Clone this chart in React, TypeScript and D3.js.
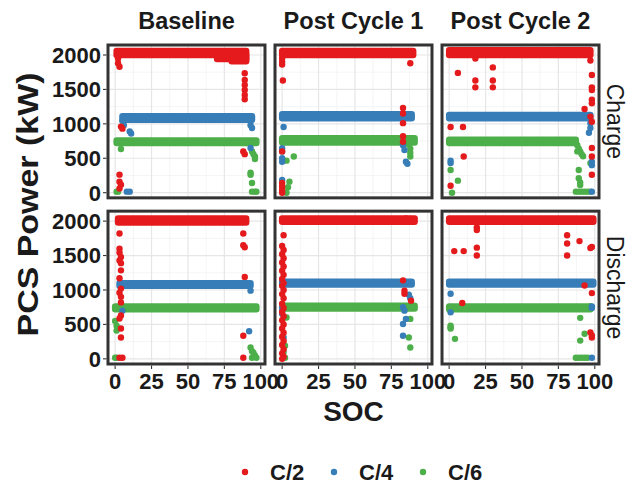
import React from "react";
import * as d3 from "d3";

const facetCols = ["Baseline", "Post Cycle 1", "Post Cycle 2"];
const facetRows = ["Charge", "Discharge"];
const seriesNames = ["C/2", "C/4", "C/6"];
const seriesColors = ["#E41A1C", "#377EB8", "#4DAF4A"];
const xTicks = [0, 25, 50, 75, 100];
const yTicks = [0, 500, 1000, 1500, 2000];
const xMinor = [12.5, 37.5, 62.5, 87.5];
const yMinor = [250, 750, 1250, 1750];

// dense runs of points: [series, SOC start, SOC end, power low, power high]
type Run = [string, number, number, number, number];
// single points: [series, SOC, power]
type Pt = [string, number, number];

const baselineChargeRuns: Run[] = [
  ["C/6", 1, 97, 720, 760],
  ["C/4", 5, 94, 1060, 1110],
  ["C/2", 1, 90, 2000, 2060],
  ["C/2", 70, 90, 1940, 2000],
  ["C/2", 80, 90, 1910, 1960],
];
const baselineChargePoints: Pt[] = [
  ["C/6", 4, 635], ["C/6", 95, 560], ["C/6", 96, 525], ["C/6", 94, 600], ["C/6", 96, 490],
  ["C/6", 93, 290], ["C/6", 93, 260], ["C/6", 94, 140], ["C/6", 94, 15], ["C/6", 96, 15],
  ["C/6", 97, 15], ["C/6", 2, 15], ["C/6", 1, 15],
  ["C/4", 5, 1040], ["C/4", 6, 980], ["C/4", 10, 890], ["C/4", 11, 860], ["C/4", 93, 1040],
  ["C/4", 93, 980], ["C/4", 94, 940], ["C/4", 93, 650], ["C/4", 8, 15], ["C/4", 10, 15],
  ["C/2", 2, 1950], ["C/2", 2, 1880], ["C/2", 3, 1830], ["C/2", 89, 1735], ["C/2", 89, 1637],
  ["C/2", 89, 1565], ["C/2", 89, 1492], ["C/2", 89, 1420], ["C/2", 89, 1357], ["C/2", 4, 960],
  ["C/2", 5, 930], ["C/2", 88, 600], ["C/2", 89, 560], ["C/2", 3, 262], ["C/2", 3, 160],
  ["C/2", 4, 115], ["C/2", 3, 60],
];

const cycle1ChargeRuns: Run[] = [
  ["C/6", 0, 91, 730, 790],
  ["C/4", 0, 89, 1080, 1140],
  ["C/2", 0, 90, 2000, 2060],
];
const cycle1ChargePoints: Pt[] = [
  ["C/6", 8, 525], ["C/6", 3, 465], ["C/6", 5, 160], ["C/6", 4, 80], ["C/6", 3, 0],
  ["C/6", 87, 700], ["C/6", 88, 640], ["C/6", 88, 580], ["C/6", 88, 525],
  ["C/4", 1, 955], ["C/4", 0, 645], ["C/4", 0, 600], ["C/4", 0, 500], ["C/4", 0, 450],
  ["C/4", 0, 185], ["C/4", 83, 690], ["C/4", 84, 620], ["C/4", 85, 450], ["C/4", 86, 420],
  ["C/2", 0, 1950], ["C/2", 0, 1900], ["C/2", 0, 1860], ["C/2", 0.5, 1630], ["C/2", 88, 1880],
  ["C/2", 83, 1230], ["C/2", 83, 1150], ["C/2", 83, 1010], ["C/2", 83, 820], ["C/2", 83, 740],
  ["C/2", 0, 600], ["C/2", 0, 140], ["C/2", 0, 90], ["C/2", 0, 40], ["C/2", 0, 0],
];

const cycle2ChargeRuns: Run[] = [
  ["C/6", 0, 87, 720, 770],
  ["C/4", 0, 97, 1080, 1130],
  ["C/2", 0, 97, 2000, 2070],
];
const cycle2ChargePoints: Pt[] = [
  ["C/6", 88, 690], ["C/6", 89, 640], ["C/6", 90, 600], ["C/6", 91, 560], ["C/6", 88, 600],
  ["C/6", 92, 530], ["C/6", 89, 330], ["C/6", 89, 210], ["C/6", 90, 150], ["C/6", 90, 110],
  ["C/6", 87, 15], ["C/6", 89, 15], ["C/6", 91, 15], ["C/6", 93, 15], ["C/6", 95, 15],
  ["C/6", 97, 15], ["C/6", 97, 430], ["C/6", 1, 330], ["C/6", 6, 175], ["C/6", 2, 0],
  ["C/4", 97, 1010], ["C/4", 97, 940], ["C/4", 96, 870], ["C/4", 98, 450], ["C/4", 98, 400],
  ["C/4", 98, 15], ["C/4", 1, 465], ["C/4", 1, 430],
  ["C/2", 6, 1740], ["C/2", 18, 1950], ["C/2", 18, 1630], ["C/2", 18, 1530], ["C/2", 30, 1820],
  ["C/2", 30, 1630], ["C/2", 30, 1530], ["C/2", 97, 1920], ["C/2", 98, 1710], ["C/2", 98, 1530],
  ["C/2", 98, 1490], ["C/2", 98, 1350], ["C/2", 98, 1300], ["C/2", 93, 1215], ["C/2", 97, 1105],
  ["C/2", 98, 1030], ["C/2", 1, 955], ["C/2", 9.5, 955], ["C/2", 10, 525], ["C/2", 98, 650],
  ["C/2", 98, 525], ["C/2", 98, 260], ["C/2", 1, 100],
];

const baselineDischargeRuns: Run[] = [
  ["C/6", 0, 97, 720, 760],
  ["C/4", 3, 93, 1060, 1100],
  ["C/2", 2, 90, 1980, 2040],
];
const baselineDischargePoints: Pt[] = [
  ["C/6", 0, 550], ["C/6", 1, 480], ["C/6", 1, 410], ["C/6", 0, 15], ["C/6", 1, 15],
  ["C/6", 93, 165], ["C/6", 94, 110], ["C/6", 95, 90], ["C/6", 96, 50], ["C/6", 97, 15], ["C/6", 94, 15],
  ["C/4", 93, 990], ["C/4", 92, 400], ["C/4", 5, 700],
  ["C/2", 3, 1820], ["C/2", 3, 1600], ["C/2", 3, 1540], ["C/2", 4, 1480], ["C/2", 3, 1430],
  ["C/2", 4, 1390], ["C/2", 4, 1285], ["C/2", 3, 1170], ["C/2", 4, 1020], ["C/2", 3, 960],
  ["C/2", 4, 900], ["C/2", 4, 820], ["C/2", 4, 630], ["C/2", 3, 585], ["C/2", 4, 440],
  ["C/2", 4, 310], ["C/2", 3, 15], ["C/2", 5, 15], ["C/2", 88, 1820], ["C/2", 88, 1650],
  ["C/2", 89, 1620], ["C/2", 89, 1190], ["C/2", 88, 335], ["C/2", 88, 15],
];

const cycle1DischargeRuns: Run[] = [
  ["C/6", 1, 91, 730, 770],
  ["C/4", 0, 89, 1080, 1120],
  ["C/2", 0, 91, 1990, 2040],
];
const cycle1DischargePoints: Pt[] = [
  ["C/6", 88, 580], ["C/6", 87, 310], ["C/6", 88, 165], ["C/6", 89, 760], ["C/6", 3, 600],
  ["C/6", 2, 190], ["C/6", 2, 15], ["C/6", 1, 100],
  ["C/4", 87, 930], ["C/4", 88, 880], ["C/4", 83, 750], ["C/4", 84, 700], ["C/4", 85, 580],
  ["C/4", 83, 505], ["C/4", 83, 335], ["C/4", 0, 750], ["C/4", 0, 700], ["C/4", 0, 655], ["C/4", 1, 310],
  ["C/2", 1, 1795], ["C/2", 0, 1640], ["C/2", 1, 1580], ["C/2", 0, 1520], ["C/2", 1, 1460],
  ["C/2", 0, 1400], ["C/2", 1, 1340], ["C/2", 0, 1280], ["C/2", 1, 1220], ["C/2", 0, 1160],
  ["C/2", 1, 1100], ["C/2", 0, 1060], ["C/2", 1, 1000], ["C/2", 0, 940], ["C/2", 1, 880],
  ["C/2", 0, 800], ["C/2", 1, 740], ["C/2", 0, 680], ["C/2", 1, 620], ["C/2", 0, 560],
  ["C/2", 1, 500], ["C/2", 0, 440], ["C/2", 1, 380], ["C/2", 0, 320], ["C/2", 1, 260],
  ["C/2", 0, 200], ["C/2", 1, 140], ["C/2", 0, 80], ["C/2", 1, 30], ["C/2", 0, 0],
  ["C/2", 83, 1140], ["C/2", 84, 990], ["C/2", 84, 945], ["C/2", 88.5, 845], ["C/2", 85, 2040], ["C/2", 88, 2030],
];

const cycle2DischargeRuns: Run[] = [
  ["C/6", 0, 97, 720, 760],
  ["C/4", 0, 99, 1080, 1120],
  ["C/2", 0, 99, 1990, 2040],
];
const cycle2DischargePoints: Pt[] = [
  ["C/6", 1, 480], ["C/6", 1, 460], ["C/6", 1, 440], ["C/6", 4, 290], ["C/6", 90, 595],
  ["C/6", 93, 365], ["C/6", 90, 265], ["C/6", 87, 15], ["C/6", 89, 15], ["C/6", 91, 15],
  ["C/6", 93, 15], ["C/6", 95, 15], ["C/6", 97, 760],
  ["C/4", 1, 945], ["C/4", 1, 675], ["C/4", 98, 760], ["C/4", 98, 740], ["C/4", 98, 15],
  ["C/2", 19, 1910], ["C/2", 19, 1870], ["C/2", 3.5, 1565], ["C/2", 10, 1565], ["C/2", 19, 1615],
  ["C/2", 19, 1500], ["C/2", 81, 1795], ["C/2", 81, 1675], ["C/2", 81, 1500], ["C/2", 89.5, 1710],
  ["C/2", 98, 1625], ["C/2", 97, 1610], ["C/2", 9, 810], ["C/2", 93, 1065], ["C/2", 98, 955],
  ["C/2", 97, 385], ["C/2", 98, 340], ["C/2", 98, 310],
];

const panelData: Record<string, { runs: Run[]; points: Pt[] }> = {
  "Charge|Baseline": { runs: baselineChargeRuns, points: baselineChargePoints },
  "Charge|Post Cycle 1": { runs: cycle1ChargeRuns, points: cycle1ChargePoints },
  "Charge|Post Cycle 2": { runs: cycle2ChargeRuns, points: cycle2ChargePoints },
  "Discharge|Baseline": { runs: baselineDischargeRuns, points: baselineDischargePoints },
  "Discharge|Post Cycle 1": { runs: cycle1DischargeRuns, points: cycle1DischargePoints },
  "Discharge|Post Cycle 2": { runs: cycle2DischargeRuns, points: cycle2DischargePoints },
};

const W = 631;
const H = 487;
const FONT = "'Liberation Sans', Arial, Helvetica, sans-serif";
const TXT = "#1a1a1a";
const R = 3.2;

export default function App() {
  const colScale = d3.scaleBand<string>().domain(facetCols).range([108, 599]).paddingInner(0.06);
  const rowScale = d3.scaleBand<string>().domain(facetRows).range([45, 364]).paddingInner(0.08);
  const color = d3.scaleOrdinal<string, string>().domain(seriesNames).range(seriesColors);
  const bw = colScale.bandwidth();
  const bh = rowScale.bandwidth();
  const order = ["C/6", "C/4", "C/2"];

  return (
    <svg width={W} height={H} style={{ display: "block", position: "absolute", left: 0, top: 0 }}>
      <rect width={W} height={H} fill="#ffffff" />
      {facetRows.map((row, ri) =>
        facetCols.map((col, ci) => {
          const x0 = colScale(col)!;
          const y0 = rowScale(row)!;
          const x = d3.scaleLinear().domain([-4.9, 102.9]).range([x0, x0 + bw]);
          const y = d3.scaleLinear().domain([-75, 2145]).range([y0 + bh, y0]);
          const d = panelData[`${row}|${col}`];
          return (
            <g key={row + col}>
              <rect x={x0} y={y0} width={bw} height={bh} fill="#fff" />
              {xMinor.map((t) => (
                <line key={"xm" + t} x1={x(t)} x2={x(t)} y1={y0} y2={y0 + bh} stroke="#F0F0F0" strokeWidth={0.7} />
              ))}
              {yMinor.map((t) => (
                <line key={"ym" + t} x1={x0} x2={x0 + bw} y1={y(t)} y2={y(t)} stroke="#F0F0F0" strokeWidth={0.7} />
              ))}
              {xTicks.map((t) => (
                <line key={"xg" + t} x1={x(t)} x2={x(t)} y1={y0} y2={y0 + bh} stroke="#E6E6E6" strokeWidth={1.2} />
              ))}
              {yTicks.map((t) => (
                <line key={"yg" + t} x1={x0} x2={x0 + bw} y1={y(t)} y2={y(t)} stroke="#E6E6E6" strokeWidth={1.2} />
              ))}
              {order.map((s) =>
                d.runs
                  .filter((r) => r[0] === s)
                  .map((r, i) => (
                    <rect
                      key={s + "r" + i}
                      x={x(r[1]) - R}
                      y={y(r[4]) - R}
                      width={x(r[2]) - x(r[1]) + 2 * R}
                      height={y(r[3]) - y(r[4]) + 2 * R}
                      rx={R}
                      ry={R}
                      fill={color(s)}
                    />
                  ))
              )}
              {order.map((s) =>
                d.points
                  .filter((p) => p[0] === s)
                  .map((p, i) => <circle key={s + "p" + i} cx={x(p[1])} cy={y(p[2])} r={R} fill={color(s)} />)
              )}
              <rect x={x0} y={y0} width={bw} height={bh} fill="none" stroke="#333333" strokeWidth={3} />
              {ci === 0 &&
                yTicks.map((t) => (
                  <g key={"yt" + t}>
                    <line x1={x0 - 5} x2={x0 - 1.5} y1={y(t)} y2={y(t)} stroke="#333" strokeWidth={1.1} />
                    <text x={x0 - 7} y={y(t)} dy="0.36em" textAnchor="end" fontFamily={FONT} fontWeight="bold" fontSize={22} fill={TXT}>
                      {t}
                    </text>
                  </g>
                ))}
              {ri === facetRows.length - 1 &&
                xTicks.map((t) => (
                  <g key={"xt" + t}>
                    <line x1={x(t)} x2={x(t)} y1={y0 + bh + 1.5} y2={y0 + bh + 5} stroke="#333" strokeWidth={1.1} />
                    <text x={x(t)} y={y0 + bh + 25} textAnchor="middle" fontFamily={FONT} fontWeight="bold" fontSize={22} fill={TXT}>
                      {t}
                    </text>
                  </g>
                ))}
              {ri === 0 && (
                <text x={x0 + bw / 2} y={y0 - 16} textAnchor="middle" fontFamily={FONT} fontWeight="bold" fontSize={23.5} fill={TXT}>
                  {col}
                </text>
              )}
              {ci === facetCols.length - 1 && (
                <text
                  transform={`translate(${x0 + bw + 8},${y0 + bh / 2}) rotate(90)`}
                  textAnchor="middle"
                  fontFamily={FONT}
                  fontSize={23}
                  fill={TXT}
                >
                  {row}
                </text>
              )}
            </g>
          );
        })
      )}
      <text
        transform={`translate(38,${(45 + 364) / 2}) rotate(-90)`}
        textAnchor="middle"
        fontFamily={FONT}
        fontWeight="bold"
        fontSize={30}
        textLength={264}
        lengthAdjust="spacingAndGlyphs"
        fill={TXT}
      >
        PCS Power (kW)
      </text>
      <text x={(108 + 599) / 2} y={421} textAnchor="middle" fontFamily={FONT} fontWeight="bold" fontSize={28} fill={TXT}>
        SOC
      </text>
      {seriesNames.map((s, i) => {
        const lx = [245, 334, 423][i];
        return (
          <g key={"lg" + s}>
            <circle cx={lx} cy={472} r={3.2} fill={color(s)} />
            <text x={lx + 25} y={480} fontFamily={FONT} fontWeight="bold" fontSize={22} fill={TXT}>
              {s}
            </text>
          </g>
        );
      })}
    </svg>
  );
}
